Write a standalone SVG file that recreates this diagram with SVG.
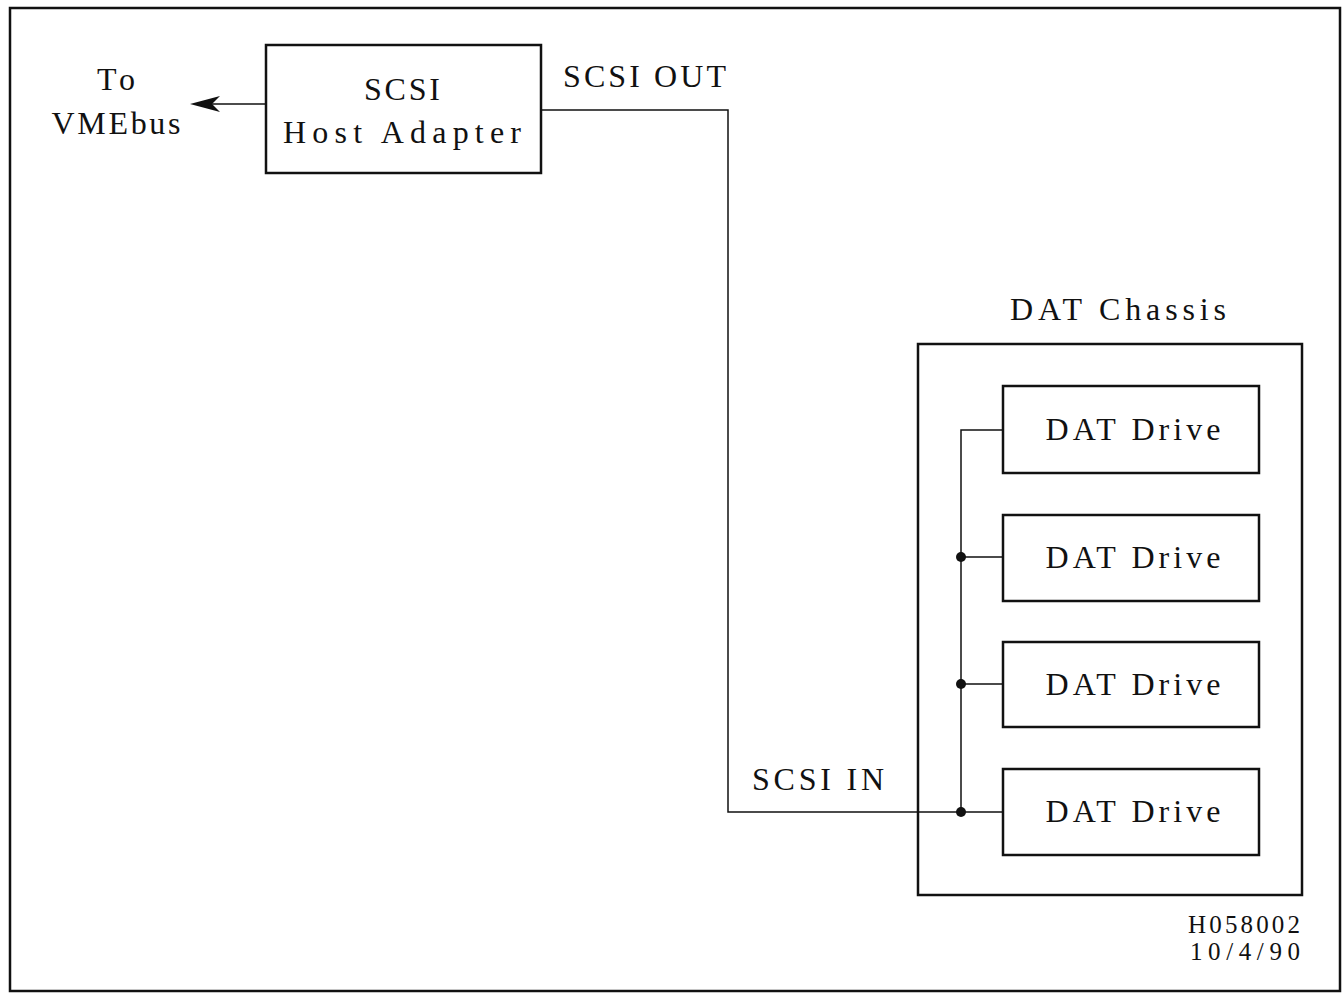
<svg xmlns="http://www.w3.org/2000/svg" width="1344" height="994" viewBox="0 0 1344 994">
<style>
.t{font-family:"Liberation Serif","DejaVu Serif",serif;font-size:32px;fill:#111}
.s{font-family:"Liberation Serif","DejaVu Serif",serif;font-size:25px;fill:#111}
.box{fill:none;stroke:#111;stroke-width:2.5}
.wire{fill:none;stroke:#111;stroke-width:1.5}
</style>
<rect x="0" y="0" width="1344" height="994" fill="#fff"/>
<rect x="10" y="8" width="1330" height="983" class="box"/>
<g id="host">
<rect x="266" y="45" width="275" height="128" class="box"/>
<text class="t" x="402" y="100" text-anchor="middle" textLength="76" lengthAdjust="spacing">SCSI</text>
<text class="t" x="402" y="143" text-anchor="middle" textLength="238" lengthAdjust="spacing">Host Adapter</text>
</g>
<g id="vmebus">
<text class="t" x="116" y="90" text-anchor="middle" textLength="38" lengthAdjust="spacing">To</text>
<text class="t" x="116" y="134" text-anchor="middle" textLength="129" lengthAdjust="spacing">VMEbus</text>
</g>
<g id="labels">
<text class="t" x="563" y="87" textLength="163" lengthAdjust="spacing">SCSI OUT</text>
<text class="t" x="752" y="790" textLength="132" lengthAdjust="spacing">SCSI IN</text>
<text class="t" x="1010" y="320" textLength="216" lengthAdjust="spacing">DAT Chassis</text>
<text class="s" x="1300" y="933" text-anchor="end" textLength="112" lengthAdjust="spacing">H058002</text>
<text class="s" x="1300" y="960" text-anchor="end" textLength="110" lengthAdjust="spacing">10/4/90</text>
</g>
<g id="chassis">
<rect x="918" y="344" width="384" height="551" class="box"/>
</g>
<g id="drive1">
<rect x="1003" y="386" width="256" height="87" class="box"/>
<text class="t" x="1133" y="440" text-anchor="middle" textLength="175" lengthAdjust="spacing">DAT Drive</text>
</g>
<g id="drive2">
<rect x="1003" y="515" width="256" height="86" class="box"/>
<text class="t" x="1133" y="568" text-anchor="middle" textLength="175" lengthAdjust="spacing">DAT Drive</text>
</g>
<g id="drive3">
<rect x="1003" y="642" width="256" height="85" class="box"/>
<text class="t" x="1133" y="695" text-anchor="middle" textLength="175" lengthAdjust="spacing">DAT Drive</text>
</g>
<g id="drive4">
<rect x="1003" y="769" width="256" height="86" class="box"/>
<text class="t" x="1133" y="822" text-anchor="middle" textLength="175" lengthAdjust="spacing">DAT Drive</text>
</g>
<g id="connectors">
<path d="M266,104 H205" class="wire"/>
<path d="M190,104 L220,96 L212,104 L220,112 Z" fill="#111"/>
<path d="M541,110 H728 V812 H1003" class="wire"/>
<path d="M1003,430 H961 V812" class="wire"/>
<path d="M961,557 H1003 M961,684 H1003" class="wire"/>
<circle cx="961" cy="557" r="5" fill="#111"/>
<circle cx="961" cy="684" r="5" fill="#111"/>
<circle cx="961" cy="812" r="5" fill="#111"/>
</g>
</svg>
